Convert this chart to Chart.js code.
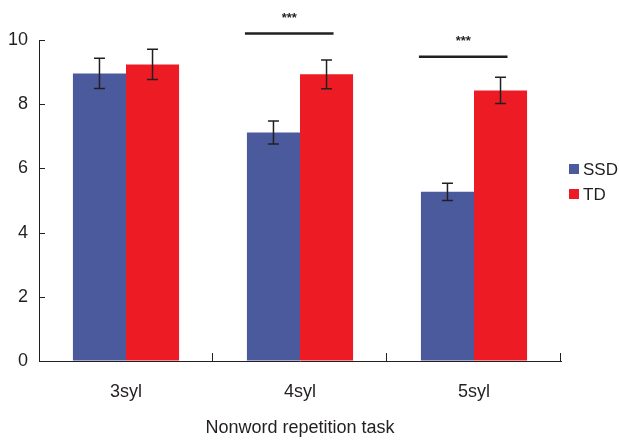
<!DOCTYPE html>
<html>
<head>
<meta charset="utf-8">
<script src="https://cdn.jsdelivr.net/npm/chart.js@4/dist/chart.umd.min.js"></script>
<style>
  html, body { margin: 0; padding: 0; background: #ffffff; }
  #wrap { width: 619px; height: 441px; position: relative; }
</style>
</head>
<body>
<div id="wrap"><canvas id="c"></canvas></div>
<script>
// ---- data ----
const categories = ['3syl', '4syl', '5syl'];
const ssdValues = [8.96, 7.12, 5.27];
const ssdErrors = [0.47, 0.36, 0.27];
const tdValues = [9.24, 8.93, 8.43];
const tdErrors = [0.47, 0.45, 0.41];
const sigLabels = [null, '***', '***'];
const sigLevels = [null, 10.2, 9.48];
const yTicks = [0, 2, 4, 6, 8, 10];
const xTitle = 'Nonword repetition task';

const FONT = "'Liberation Sans', Arial, sans-serif";
const INK = '#231f20';

const errorBarPlugin = {
  id: 'errorBars',
  afterDatasetsDraw(chart) {
    const ctx = chart.ctx;
    const y = chart.scales.y;
    ctx.save();
    ctx.strokeStyle = INK;
    ctx.lineWidth = 1.5;
    chart.data.datasets.forEach((ds, di) => {
      const meta = chart.getDatasetMeta(di);
      meta.data.forEach((bar, i) => {
        const v = ds.data[i], e = ds.errors[i];
        const yt = y.getPixelForValue(v + e), yb = y.getPixelForValue(v - e);
        const cap = 5.5;
        ctx.beginPath();
        ctx.moveTo(bar.x, yt); ctx.lineTo(bar.x, yb);
        ctx.moveTo(bar.x - cap, yt); ctx.lineTo(bar.x + cap, yt);
        ctx.moveTo(bar.x - cap, yb); ctx.lineTo(bar.x + cap, yb);
        ctx.stroke();
      });
    });
    ctx.restore();
  }
};

const sigPlugin = {
  id: 'sig',
  afterDraw(chart) {
    const ctx = chart.ctx;
    const y = chart.scales.y;
    const m0 = chart.getDatasetMeta(0), m1 = chart.getDatasetMeta(1);
    ctx.save();
    sigLabels.forEach((lab, i) => {
      if (!lab) return;
      const b0 = m0.data[i], b1 = m1.data[i];
      const x1 = b0.x - b0.width / 2 - 2;
      const x2 = b1.x + 7;
      const yy = y.getPixelForValue(sigLevels[i]);
      ctx.strokeStyle = INK;
      ctx.lineWidth = 2.5;
      ctx.beginPath(); ctx.moveTo(x1, yy); ctx.lineTo(x2, yy); ctx.stroke();
      ctx.fillStyle = INK;
      ctx.font = "bold 13px 'Liberation Sans', sans-serif";
      ctx.textAlign = 'center';
      ctx.textBaseline = 'alphabetic';
      ctx.fillText(lab, (x1 + x2) / 2, yy - 12);
    });
    ctx.restore();
  }
};

const ticksPlugin = {
  id: 'inTicks',
  afterDraw(chart) {
    const ctx = chart.ctx;
    const {left, right, bottom} = chart.chartArea;
    const y = chart.scales.y;
    ctx.save();
    ctx.strokeStyle = INK;
    ctx.lineWidth = 1;
    ctx.beginPath();
    yTicks.forEach(t => {
      const p = Math.round(y.getPixelForValue(t)) + 0.5;
      ctx.moveTo(left, p); ctx.lineTo(left + 6, p);
    });
    const n = categories.length;
    for (let i = 1; i <= n; i++) {
      const p = Math.round(left + (right - left) * i / n) - 0.5;
      ctx.moveTo(p, bottom); ctx.lineTo(p, bottom - 8);
    }
    ctx.stroke();
    ctx.restore();
  }
};

const legendPlugin = {
  id: 'customLegend',
  afterDraw(chart) {
    const ctx = chart.ctx;
    ctx.save();
    ctx.font = '17px ' + FONT;
    ctx.textBaseline = 'middle';
    ctx.textAlign = 'left';
    const x0 = chart.chartArea.right + 8;
    const ys = [169, 194];
    chart.data.datasets.forEach((ds, i) => {
      ctx.fillStyle = ds.backgroundColor;
      ctx.fillRect(x0, ys[i] - 5, 10, 10);
      ctx.fillStyle = INK;
      ctx.fillText(ds.label, x0 + 14, ys[i] + 1);
    });
    ctx.restore();
  }
};

new Chart(document.getElementById('c'), {
  type: 'bar',
  data: {
    labels: categories,
    datasets: [
      { label: 'SSD', data: ssdValues, errors: ssdErrors, backgroundColor: '#4b5a9d',
        categoryPercentage: 0.61, barPercentage: 1.0, borderWidth: 0 },
      { label: 'TD', data: tdValues, errors: tdErrors, backgroundColor: '#ed1c24',
        categoryPercentage: 0.61, barPercentage: 1.0, borderWidth: 0 }
    ]
  },
  options: {
    responsive: true,
    maintainAspectRatio: false,
    animation: false,
    layout: { padding: { top: 40, right: 58, left: 0, bottom: 0 } },
    plugins: { legend: { display: false }, tooltip: { enabled: false } },
    scales: {
      x: {
        grid: { display: true, drawOnChartArea: false, drawTicks: false },
        border: { display: true, color: INK, width: 1 },
        ticks: { color: INK, font: { family: FONT, size: 18 }, padding: 20 },
        title: { display: true, text: xTitle, color: INK, font: { family: FONT, size: 18 },
                 padding: { top: 0, bottom: 2 } },
        afterFit(s) { s.height = 80; }
      },
      y: {
        min: 0, max: 10,
        afterBuildTicks(s) { s.ticks = yTicks.map(v => ({ value: v })); },
        grid: { display: true, drawOnChartArea: false, drawTicks: false },
        border: { display: true, color: INK, width: 1 },
        ticks: { color: INK, font: { family: FONT, size: 18 }, padding: 11 },
        afterFit(s) { s.width = 39; }
      }
    }
  },
  plugins: [errorBarPlugin, sigPlugin, ticksPlugin, legendPlugin]
});
</script>
</body>
</html>
